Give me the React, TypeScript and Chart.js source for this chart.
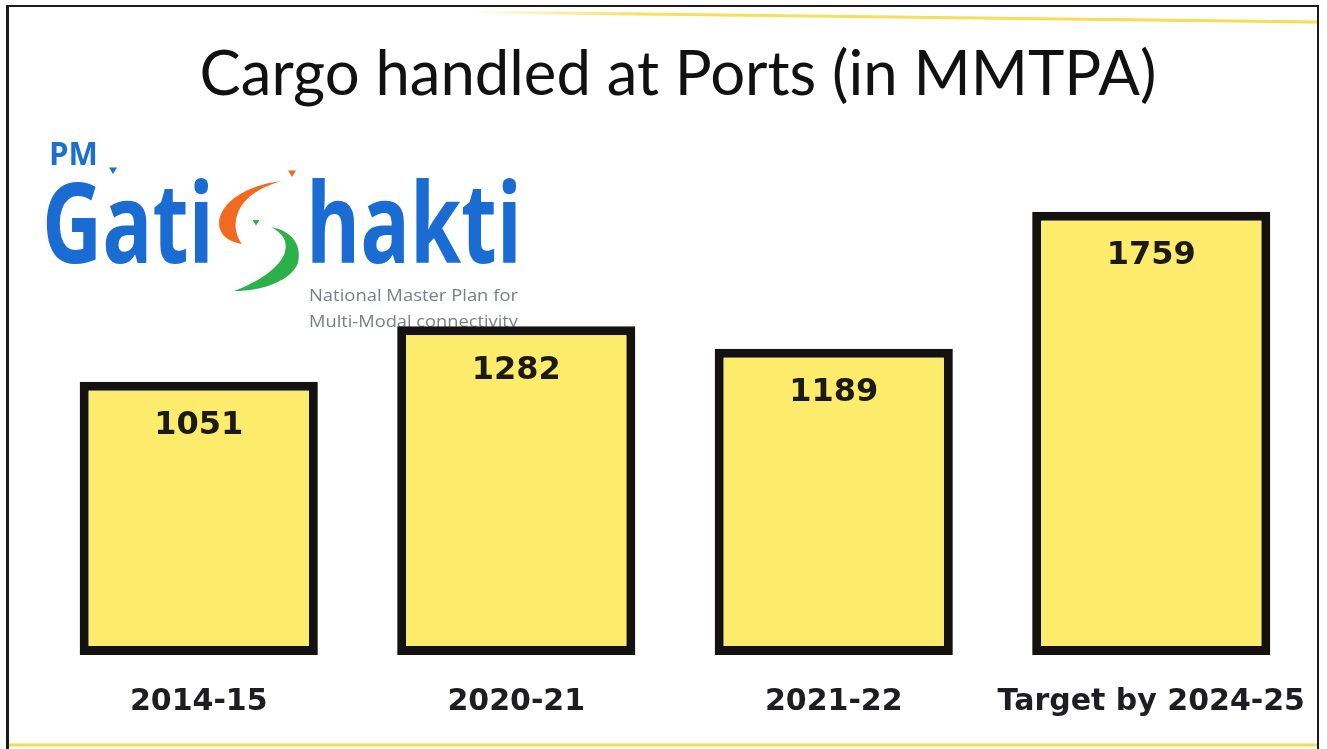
import React, { useEffect, useRef } from "react";
import { Chart, registerables } from "chart.js";

Chart.register(...registerables);

const categories = ["2014-15", "2020-21", "2021-22", "Target by 2024-25"];
const cargoValues = [1051, 1282, 1189, 1759];
const titleText = "Cargo handled at Ports (in MMTPA)";
const Y_MIN = -87;
const Y_MAX = 1900;

const W = 1327;
const H = 749;

function fitText(ctx: CanvasRenderingContext2D, text: string, x: number, y: number, width: number) {
  const m = ctx.measureText(text).width;
  ctx.save();
  ctx.translate(x, y);
  ctx.scale(width / m, 1);
  ctx.fillText(text, 0, 0);
  ctx.restore();
}

function tri(ctx: CanvasRenderingContext2D, x: number, y: number, s: number) {
  ctx.beginPath();
  ctx.moveTo(x - s, y - s * 0.6);
  ctx.lineTo(x + s, y - s * 0.6);
  ctx.lineTo(x, y + s);
  ctx.closePath();
  ctx.fill();
}

const decorPlugin = {
  id: "decor",
  beforeDatasetsDraw(chart: any) {
    const ctx = chart.ctx as CanvasRenderingContext2D;
    ctx.save();
    // frame lines
    ctx.fillStyle = "#1a1a1a";
    ctx.fillRect(7, 5, 1312, 2);
    ctx.fillRect(6, 5, 3, H - 5);
    ctx.fillRect(1317, 5, 2, H - 5);
    // yellow lines
    ctx.strokeStyle = "#f6dc4e";
    ctx.lineWidth = 3;
    ctx.beginPath();
    ctx.moveTo(9, 745);
    ctx.lineTo(1317, 745);
    ctx.stroke();
    const grad = ctx.createLinearGradient(470, 0, 1317, 0);
    grad.addColorStop(0, "rgba(246,220,78,0)");
    grad.addColorStop(0.2, "rgba(246,220,78,0.9)");
    grad.addColorStop(1, "rgba(246,220,78,1)");
    ctx.strokeStyle = grad;
    ctx.beginPath();
    ctx.moveTo(470, 12);
    ctx.lineTo(1317, 22);
    ctx.stroke();

    // title
    ctx.fillStyle = "#111111";
    ctx.textAlign = "center";
    ctx.textBaseline = "alphabetic";
    let size = 56;
    ctx.font = `${size}px Lato`;
    const w = ctx.measureText(titleText).width;
    size = (size * 957) / w;
    ctx.font = `${size}px Lato`;
    ctx.fillText(titleText, 678, 95);

    // logo
    ctx.textAlign = "left";
    ctx.fillStyle = "#1b6fd1";
    ctx.font = "bold 32px 'Open Sans'";
    fitText(ctx, "PM", 49, 165, 49);
    tri(ctx, 113, 170, 4);
    ctx.font = "bold 112px 'Open Sans'";
    ctx.fillStyle = "#1a6cd3";
    fitText(ctx, "Gati", 42, 263, 172);
    fitText(ctx, "hakti", 306, 263, 216);
    // swoosh S
    ctx.fillStyle = "#f26a1f";
    ctx.beginPath();
    ctx.moveTo(282, 181);
    ctx.bezierCurveTo(247, 185, 220, 202, 219, 223);
    ctx.bezierCurveTo(219, 235, 229, 242, 242, 244);
    ctx.bezierCurveTo(233, 232, 233, 214, 246, 200);
    ctx.bezierCurveTo(256, 190, 268, 185, 282, 181);
    ctx.closePath();
    ctx.fill();
    tri(ctx, 292, 173, 4);
    ctx.fillStyle = "#2bb04a";
    ctx.beginPath();
    ctx.moveTo(271, 227);
    ctx.bezierCurveTo(293, 231, 302, 246, 298, 263);
    ctx.bezierCurveTo(291, 281, 262, 291, 234, 291);
    ctx.bezierCurveTo(258, 282, 280, 268, 285, 252);
    ctx.bezierCurveTo(288, 240, 282, 233, 271, 227);
    ctx.closePath();
    ctx.fill();
    tri(ctx, 256, 222, 3.5);
    ctx.fillStyle = "#7a7f8c";
    ctx.font = "17px 'Open Sans'";
    fitText(ctx, "National Master Plan for", 309, 301, 209);
    fitText(ctx, "Multi-Modal connectivity", 309, 327, 209);
    ctx.restore();
  },
  afterDatasetsDraw(chart: any) {
    const ctx = chart.ctx as CanvasRenderingContext2D;
    const meta = chart.getDatasetMeta(0);
    ctx.save();
    ctx.fillStyle = "#1c1a14";
    ctx.font = "bold 32px 'DejaVu Sans'";
    ctx.textAlign = "center";
    ctx.textBaseline = "middle";
    meta.data.forEach((bar: any, i: number) => {
      ctx.fillText(String(cargoValues[i]), bar.x, bar.y + 44);
    });
    ctx.restore();
  },
};

export default function App() {
  const ref = useRef<HTMLCanvasElement | null>(null);
  useEffect(() => {
    if (!ref.current) return;
    const chart = new Chart(ref.current, {
      type: "bar",
      data: {
        labels: categories,
        datasets: [
          {
            data: cargoValues,
            base: Y_MIN,
            backgroundColor: "#fdec6c",
            borderColor: "#141210",
            borderWidth: 9,
            borderSkipped: false,
            barPercentage: 0.75,
            categoryPercentage: 1,
          } as any,
        ],
      },
      options: {
        responsive: false,
        animation: false,
        layout: { padding: { top: 178, left: 40, right: 17, bottom: 0 } },
        plugins: { legend: { display: false }, tooltip: { enabled: false } },
        scales: {
          x: {
            grid: { display: false, drawTicks: false },
            border: { display: false },
            afterFit: (scale: any) => {
              scale.paddingLeft = 0;
              scale.paddingRight = 0;
            },
            ticks: {
              color: "#1e1e22",
              font: { family: "'DejaVu Sans'", size: 30, weight: "bold" },
              padding: 29,
              maxRotation: 0,
            },
          },
          y: { display: false, min: Y_MIN, max: Y_MAX },
        },
      },
      plugins: [decorPlugin],
    });
    return () => chart.destroy();
  }, []);
  return (
    <div style={{ position: "fixed", left: 0, top: 0, width: W, height: H, background: "#fff" }}>
      <canvas ref={ref} width={W} height={H} style={{ display: "block" }} />
    </div>
  );
}
